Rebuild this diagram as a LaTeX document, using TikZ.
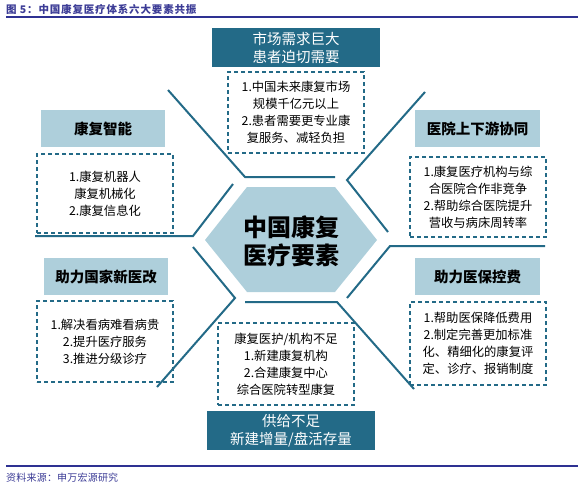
\documentclass[tikz,border=0pt]{standalone}
\usepackage{fontspec}
\setmainfont{Noto Sans CJK SC}
\definecolor{teal1}{HTML}{236A87}
\definecolor{lightb}{HTML}{AECFDB}
\definecolor{indigo1}{HTML}{2E3192}
\definecolor{titlec}{HTML}{3C3C96}
\tikzset{
  darkbox/.style={fill=teal1, text=white, inner sep=0pt, align=center, font=\fontsize{14.5}{18}\selectfont},
  lightbox/.style={fill=lightb, text=black, inner sep=0pt, align=center, font=\bfseries\fontsize{14.5}{18}\selectfont},
  dashbox/.style={draw=teal1, line width=1.2pt, dash pattern=on 4pt off 3pt, inner sep=0pt, align=center, font=\fontsize{12.3}{17}\selectfont},
  frame/.style={draw=teal1, line width=2pt},
  rule/.style={draw=indigo1, line width=2.2pt}
}
\begin{document}
\begin{tikzpicture}[x=1pt,y=-1pt]
\useasboundingbox (0,0) rectangle (580,488);
% title and rules
\node[anchor=west, text=titlec, font=\bfseries\fontsize{10.5}{12}\selectfont\addfontfeature{LetterSpace=8}, inner sep=0pt] (title) at (6,9) {图\ 5：中国康复医疗体系六大要素共振};
\coordinate (r1a) at (6,17); \coordinate (r1b) at (578,17);
\draw[rule] (r1a) -- (r1b);
\coordinate (r2a) at (6,466); \coordinate (r2b) at (578,466);
\draw[rule] (r2a) -- (r2b);
\node[anchor=west, text=titlec, font=\fontsize{10}{12}\selectfont\addfontfeature{LetterSpace=2}, inner sep=0pt] (src) at (6,478) {资料来源：申万宏源研究};
% central hexagon
\fill[lightb] (205,240) -- (247,187) -- (335,187) -- (377,240) -- (335,292) -- (247,292) -- cycle;
\node[font=\bfseries\fontsize{24}{28}\selectfont, align=center, inner sep=0pt] (center) at (291,241) {中国康复\\医疗要素};
% frame pieces
\draw[frame] (168,90) -- (245,177) -- (335,177);
\draw[frame] (425,92) -- (347,180) -- (388,232);
\draw[frame] (545,246) -- (390,246) -- (347,298);
\draw[frame] (414,389) -- (337,302) -- (245,302);
\draw[frame] (157,387) -- (235,298) -- (193,247);
\draw[frame] (35,236) -- (193,236) -- (233,184);
% top
\node[darkbox, minimum width=168pt, minimum height=39pt] (topd) at (296,47.5) {市场需求巨大\\患者迫切需要};
\node[dashbox, minimum width=136pt, minimum height=81pt] (topt) at (296,112.5) {1.中国未来康复市场\\规模千亿元以上\\2.患者需要更专业康\\复服务、减轻负担};
% left top
\node[lightbox, minimum width=124pt, minimum height=37pt] (ltl) at (103,128.5) {康复智能};
\node[dashbox, minimum width=136pt, minimum height=79pt] (ltt) at (105,193.5) {1.康复机器人\\康复机械化\\2.康复信息化};
% right top
\node[lightbox, minimum width=125pt, minimum height=37pt] (rtl) at (477.5,128.5) {医院上下游协同};
\node[dashbox, minimum width=136pt, minimum height=80pt] (rtt) at (478,197) {1.康复医疗机构与综\\合医院合作非竞争\\2.帮助综合医院提升\\营收与病床周转率};
% left mid
\node[lightbox, minimum width=124pt, minimum height=37pt] (lml) at (106,276.5) {助力国家新医改};
\node[dashbox, minimum width=136pt, minimum height=81pt] (lmt) at (105,341.5) {1.解决看病难看病贵\\2.提升医疗服务\\3.推进分级诊疗};
% right mid
\node[lightbox, minimum width=125pt, minimum height=37pt] (rml) at (477.5,276.5) {助力医保控费};
\node[dashbox, minimum width=136pt, minimum height=83pt] (rmt) at (478,343.5) {1.帮助医保降低费用\\2.制定完善更加标准\\化、精细化的康复评\\定、诊疗、报销制度};
% bottom
\node[dashbox, minimum width=136pt, minimum height=82pt] (bt) at (286,364) {康复医护/机构不足\\1.新建康复机构\\2.合建康复中心\\综合医院转型康复};
\node[darkbox, minimum width=168pt, minimum height=39pt] (bd) at (291,430.5) {供给不足\\新建增量/盘活存量};
\end{tikzpicture}
\end{document}
